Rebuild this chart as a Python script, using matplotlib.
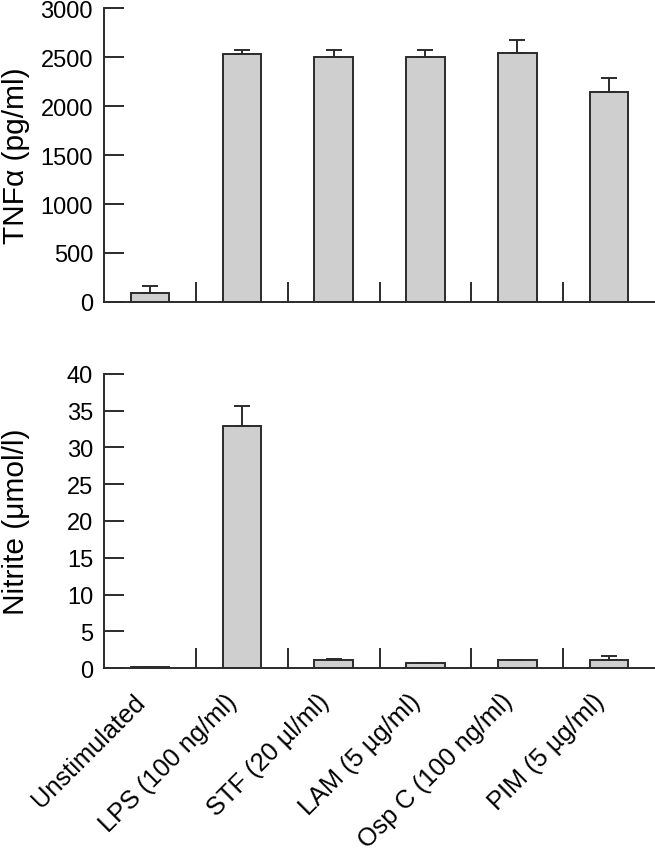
import numpy as np
import matplotlib
matplotlib.use("Agg")
import matplotlib.pyplot as plt

plt.rcParams['font.family'] = ['Liberation Sans', 'DejaVu Sans']

# Data
categories = ["Unstimulated", "LPS (100 ng/ml)", "STF (20 \u00b5l/ml)",
              "LAM (5 \u00b5g/ml)", "Osp C (100 ng/ml)", "PIM (5 \u00b5g/ml)"]
tnf_mean = [92, 2531, 2497, 2497, 2537, 2146]
tnf_err = [74, 43, 77, 77, 140, 140]
nitrite_mean = [0.1, 32.9, 1.09, 0.64, 1.09, 1.09]
nitrite_err = [0.0, 2.8, 0.18, 0.0, 0.0, 0.49]

x = np.arange(len(categories))
bar_face = '#cfcfcf'
dark = '#2b2b2b'

fig = plt.figure(figsize=(6.55, 8.53), dpi=100)
ax1 = fig.add_axes([0.159, 0.6448, 0.841, 0.3446])
ax2 = fig.add_axes([0.159, 0.2157, 0.841, 0.3447])


def draw(ax, means, errs, ymax, step, ylabel):
    ax.bar(x, means, width=0.42, color=bar_face, edgecolor=dark, linewidth=1.4,
           zorder=2)
    ax.errorbar(x, means, yerr=[np.zeros(len(errs)), errs], fmt='none',
                ecolor=dark, elinewidth=1.4, capsize=6, capthick=1.4, zorder=3)
    ax.set_xlim(-0.5, len(categories) - 0.5)
    ax.set_ylim(0, ymax)
    ax.set_yticks(np.arange(0, ymax + 1, step))
    ax.spines['top'].set_visible(False)
    ax.spines['right'].set_visible(False)
    for s in ('left', 'bottom'):
        ax.spines[s].set_color(dark)
        ax.spines[s].set_linewidth(1.4)
    ax.tick_params(axis='y', direction='in', length=14.4, width=1.4,
                   color=dark, pad=8, labelsize=17)
    ax.set_xticks(x)
    ax.set_xticks(x[:-1] + 0.5, minor=True)
    ax.tick_params(axis='x', which='major', length=0, pad=15, labelsize=18.3)
    ax.tick_params(axis='x', which='minor', direction='in', length=14.4,
                   width=1.4, color=dark)
    ax.set_ylabel(ylabel, fontsize=21.5)
    ax.yaxis.set_label_coords(-0.135, 0.5)


draw(ax1, tnf_mean, tnf_err, 3000, 500, "TNF\u03b1 (pg/ml)")
draw(ax2, nitrite_mean, nitrite_err, 40, 5, "Nitrite (\u03bcmol/l)")

ax1.set_xticklabels([])
ax2.set_xticklabels(categories, rotation=45, ha='right')

fig.savefig("out.png", dpi=100)
